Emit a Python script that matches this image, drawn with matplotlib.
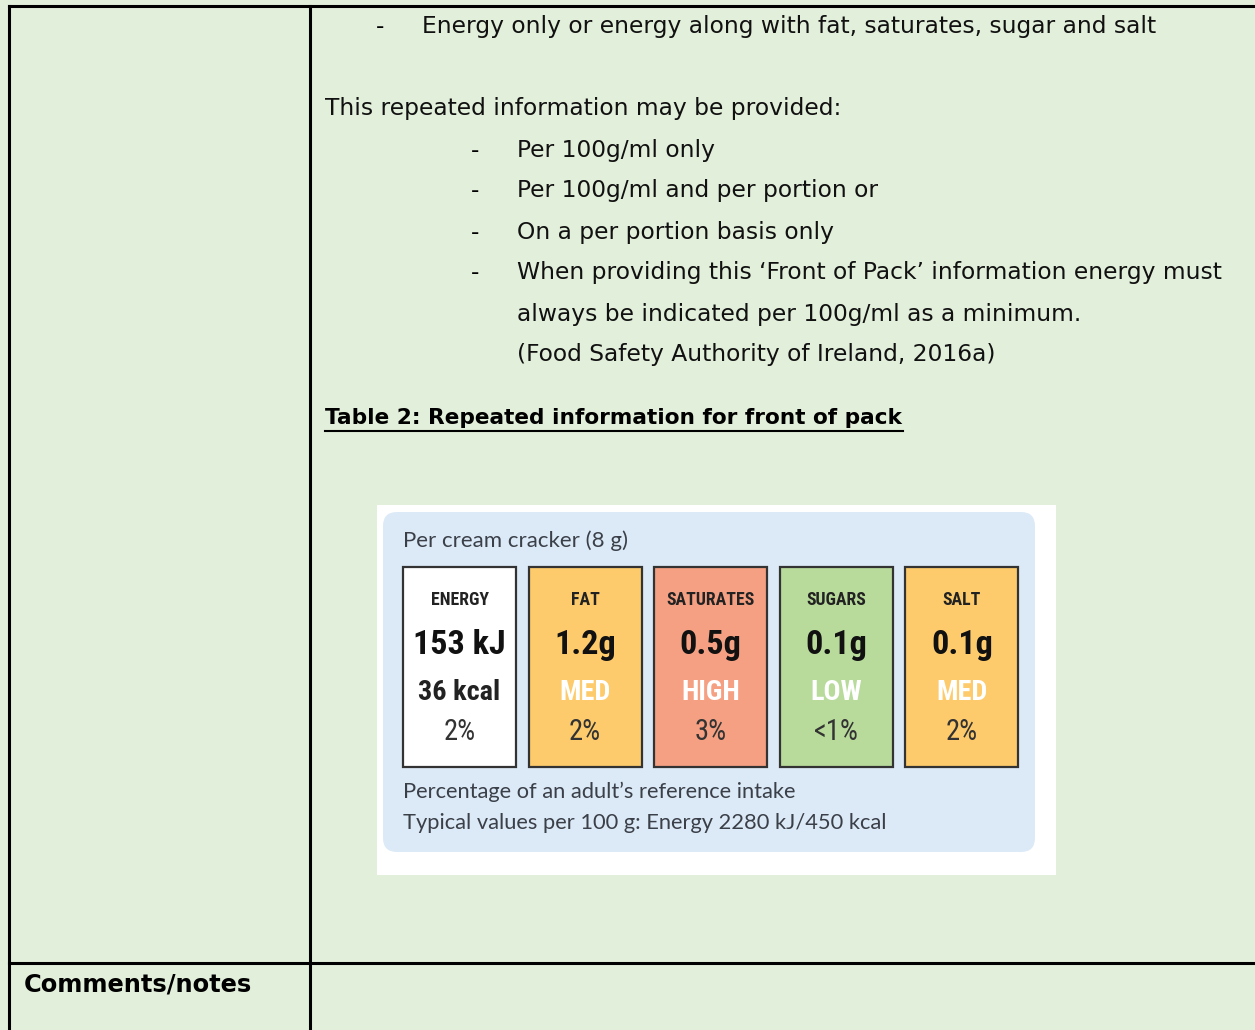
import matplotlib.pyplot as plt
from matplotlib.patches import Rectangle, FancyBboxPatch

# page text
intro_item = 'Energy only or energy along with fat, saturates, sugar and salt'
intro_line = 'This repeated information may be provided:'
options = ['Per 100g/ml only',
           'Per 100g/ml and per portion or',
           'On a per portion basis only',
           'When providing this \u2018Front of Pack\u2019 information energy must']
option_tail = ['always be indicated per 100g/ml as a minimum.',
               '(Food Safety Authority of Ireland, 2016a)']
table_title = 'Table 2: Repeated information for front of pack'
row_label = 'Comments/notes'

# front of pack label
nutrients = ['ENERGY', 'FAT', 'SATURATES', 'SUGARS', 'SALT']
amounts = ['153 kJ', '1.2g', '0.5g', '0.1g', '0.1g']
levels = ['36 kcal', 'MED', 'HIGH', 'LOW', 'MED']
percents = ['2%', '2%', '3%', '<1%', '2%']
box_colors = ['#ffffff', '#fdcb6b', '#f5a083', '#b8db9b', '#fdcb6b']
portion = 'Per cream cracker (8 g)'
footer = ['Percentage of an adult\u2019s reference intake',
          'Typical values per 100 g: Energy 2280 kJ/450 kcal']

green = '#e2efda'
body = ['DejaVu Sans']
cond = ['Roboto Condensed', 'Liberation Sans Narrow', 'DejaVu Sans']
label_txt = ['Lato', 'DejaVu Sans']

fig = plt.figure(figsize=(12.55, 10.30), dpi=100, facecolor=green)
ax = fig.add_axes([0, 0, 1, 1])
ax.set_xlim(0, 1255)
ax.set_ylim(1030, 0)
ax.axis('off')
rend = fig.canvas.get_renderer()


def fit(t, width):
    # scale a text so that it spans the width seen in the picture
    w = t.get_window_extent(renderer=rend).width
    t.set_fontsize(t.get_fontsize() * width / w)
    return t.get_fontsize()


# table borders
ax.plot([9, 1255], [6, 6], color='black', lw=2.2)
ax.plot([9, 9], [6, 1030], color='black', lw=2.2)
ax.plot([310, 310], [6, 1030], color='black', lw=2.2)
ax.plot([9, 1255], [963, 963], color='black', lw=2.2)

t = ax.text(422, 27, intro_item, fontsize=15, family=body, va='center',
            color='#111111')
fs = fit(t, 734)
ax.text(376, 27, '-', fontsize=fs, family=body, va='center')
ax.text(325, 109, intro_line, fontsize=fs, family=body, va='center',
        color='#111111')
for i, s in enumerate(options):
    y = 150 + 41 * i
    ax.text(471, y, '-', fontsize=fs, family=body, va='center')
    ax.text(517, y, s, fontsize=fs, family=body, va='center',
            color='#111111')
for i, s in enumerate(option_tail):
    ax.text(517, 314 + 41 * i, s, fontsize=fs, family=body, va='center',
            color='#111111')

t = ax.text(325, 418, table_title, fontsize=15, family=body,
            weight='bold', va='center')
fit(t, 578)
ax.plot([325, 903], [431, 431], color='black', lw=1.5)

t = ax.text(24, 985, row_label, fontsize=15, family=body,
            weight='bold', va='center')
fit(t, 230)

# embedded label image
ax.add_patch(Rectangle((377, 505), 679, 370, facecolor='white',
                       edgecolor='none'))
ax.add_patch(FancyBboxPatch((390, 519), 638, 326,
                            boxstyle='round,pad=7,rounding_size=14',
                            facecolor='#dceaf7', edgecolor='none'))
t = ax.text(403, 541, portion, fontsize=14, color='#3a3f48', va='center',
            family=label_txt)
fit(t, 225)

bx, bw, gap = 403, 113, 12.6
hdr, amt, lvl, pct = [], [], [], []
for i, name in enumerate(nutrients):
    x0 = bx + i * (bw + gap)
    cx = x0 + bw / 2
    ax.add_patch(Rectangle((x0, 567), bw, 200, facecolor=box_colors[i],
                           edgecolor='#333333', lw=1.6))
    hdr.append(ax.text(cx, 600, name, ha='center', va='center', fontsize=14,
                       weight='bold', color='#222222', family=cond))
    amt.append(ax.text(cx, 645, amounts[i], ha='center', va='center',
                       fontsize=26, weight='bold', color='#111111',
                       family=cond))
    lc = '#222222' if i == 0 else 'white'
    lvl.append(ax.text(cx, 693, levels[i], ha='center', va='center',
                       fontsize=20, weight='bold', color=lc, family=cond))
    pct.append(ax.text(cx, 732, percents[i], ha='center', va='center',
                       fontsize=17, color='#333333', family=cond))

# one size per row, taken from the widest entry
for row, ref, width in [(hdr, 2, 89), (amt, 0, 93), (lvl, 0, 82), (pct, 0, 32)]:
    s = fit(row[ref], width)
    for t in row:
        t.set_fontsize(s)

t1 = ax.text(403, 792, footer[0], fontsize=14, color='#3a3f48',
             va='center', family=label_txt)
t2 = ax.text(403, 823, footer[1], fontsize=14, color='#3a3f48',
             va='center', family=label_txt)
t1.set_fontsize(fit(t2, 486))

fig.savefig('out.png', dpi=100, facecolor=green)
